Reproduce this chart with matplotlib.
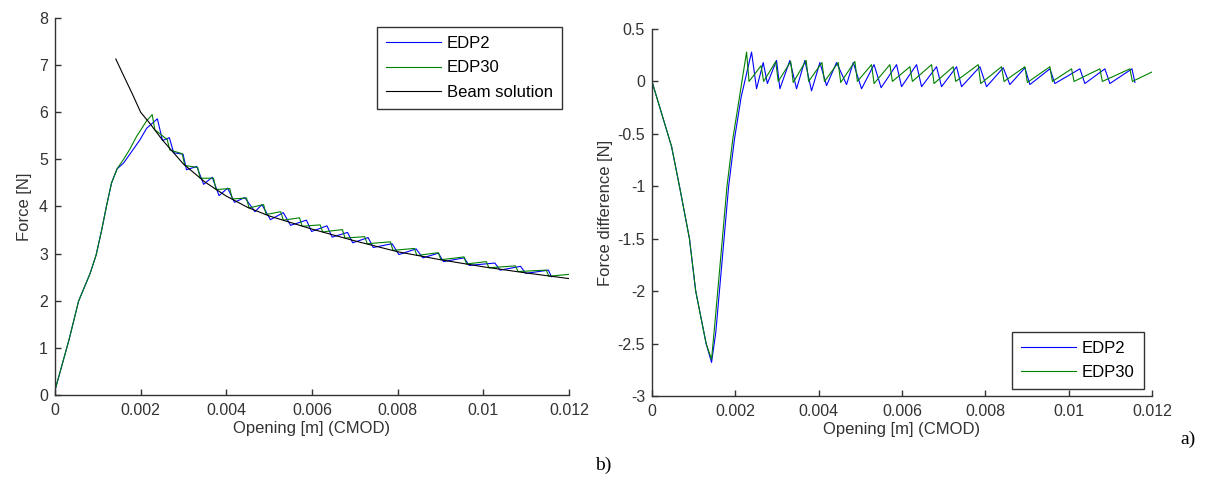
import matplotlib
matplotlib.use('Agg')
import matplotlib.pyplot as plt
from matplotlib.ticker import FuncFormatter

plt.rcParams['font.family'] = 'Liberation Sans'
plt.rcParams['axes.unicode_minus'] = False

# Left panel: force vs opening
edp2_x = [0, 0.00033, 0.00055, 0.00082, 0.00096, 0.00109, 0.0012, 0.00132, 0.00145, 0.0016, 0.00198, 0.00214, 0.00239,
          0.00251, 0.00267, 0.00277, 0.00299, 0.00307, 0.00331, 0.00347, 0.00367, 0.00383, 0.00403,
          0.00419, 0.00443, 0.00467, 0.00483, 0.00503, 0.00533, 0.0055, 0.00587, 0.00599, 0.00635,
          0.00647, 0.00683, 0.00695, 0.00731, 0.00743, 0.00787, 0.00803, 0.00843, 0.00859, 0.00895,
          0.00907, 0.00955, 0.00967, 0.01027, 0.01039, 0.01087, 0.01099, 0.01152, 0.01159]
edp2_f = [0.1, 1.18, 1.99, 2.58, 2.97, 3.5, 4.0, 4.5, 4.8, 4.92, 5.41, 5.66, 5.86,
          5.40, 5.46, 5.14, 5.11, 4.78, 4.85, 4.47, 4.62, 4.23, 4.39,
          4.09, 4.19, 3.89, 4.04, 3.72, 3.87, 3.60, 3.71, 3.47, 3.59,
          3.35, 3.45, 3.23, 3.34, 3.13, 3.21, 2.98, 3.10, 2.91, 3.01,
          2.83, 2.91, 2.75, 2.80, 2.65, 2.73, 2.58, 2.65, 2.51]

edp30_x = [0, 0.00033, 0.00055, 0.00082, 0.00096, 0.00109, 0.0012, 0.00132, 0.00145, 0.0016, 0.00175, 0.0019, 0.00214,
           0.00227, 0.00233, 0.00262, 0.00268, 0.00297, 0.00303, 0.00333, 0.00339, 0.0037, 0.00376, 0.00408,
           0.00414, 0.00447, 0.00453, 0.00487, 0.00493, 0.00527, 0.00533, 0.00571, 0.00577, 0.00619,
           0.00625, 0.00671, 0.00677, 0.00723, 0.00729, 0.00783, 0.00789, 0.00839, 0.00845, 0.00895,
           0.00901, 0.00955, 0.00961, 0.01007, 0.01013, 0.01075, 0.01081, 0.01147, 0.01153, 0.012]
edp30_f = [0.1, 1.18, 1.99, 2.58, 2.97, 3.5, 4.0, 4.5, 4.8, 5.0, 5.22, 5.48, 5.82,
           5.95, 5.63, 5.42, 5.20, 5.12, 4.87, 4.83, 4.60, 4.60, 4.36, 4.38,
           4.16, 4.18, 3.97, 4.04, 3.83, 3.89, 3.71, 3.76, 3.58, 3.61,
           3.46, 3.51, 3.33, 3.36, 3.21, 3.25, 3.07, 3.11, 2.96, 3.02,
           2.87, 2.93, 2.78, 2.83, 2.70, 2.74, 2.62, 2.65, 2.52, 2.56]

beam_x = [0.00142, 0.0016, 0.0018, 0.002, 0.0022, 0.0025, 0.003, 0.0035, 0.004, 0.0045,
          0.005, 0.006, 0.007, 0.008, 0.009, 0.01, 0.011, 0.012]
beam_f = [7.13, 6.78, 6.4, 6.0, 5.78, 5.42, 4.9, 4.52, 4.22, 3.98,
          3.8, 3.52, 3.27, 3.04, 2.87, 2.72, 2.59, 2.47]

# Right panel: force difference vs opening
diff2_x = [0, 0.00047, 0.00067, 0.0009, 0.00105, 0.0013, 0.00143, 0.00153, 0.00173, 0.00184, 0.00198, 0.00214, 0.00239,
           0.00251, 0.00267, 0.00277, 0.00299, 0.00307, 0.00331, 0.00347, 0.00367, 0.00383, 0.00403,
           0.00419, 0.00443, 0.00467, 0.00483, 0.00503, 0.00533, 0.0055, 0.00587, 0.00599, 0.00635,
           0.00647, 0.00683, 0.00695, 0.00731, 0.00743, 0.00787, 0.00803, 0.00843, 0.00859, 0.00895,
           0.00907, 0.00955, 0.00967, 0.01027, 0.01039, 0.01087, 0.01099, 0.01152, 0.01159]
diff2_y = [0, -0.62, -1.02, -1.5, -2.0, -2.5, -2.68, -2.4, -1.5, -1.0, -0.55, -0.15, 0.28,
           -0.07, 0.18, -0.02, 0.2, -0.07, 0.2, -0.07, 0.2, -0.09, 0.18,
           -0.04, 0.18, -0.03, 0.18, -0.07, 0.16, -0.06, 0.16, -0.05, 0.16,
           -0.05, 0.14, -0.05, 0.14, -0.05, 0.14, -0.05, 0.13, -0.03, 0.13,
           -0.03, 0.12, -0.02, 0.12, -0.02, 0.12, -0.02, 0.12, -0.01]

diff30_x = [0, 0.00047, 0.00067, 0.0009, 0.00105, 0.0013, 0.00143, 0.0015, 0.00169, 0.0018, 0.00194, 0.0021, 0.00227,
            0.00233, 0.00262, 0.00268, 0.00297, 0.00303, 0.00333, 0.00339, 0.0037, 0.00376, 0.00408,
            0.00414, 0.00447, 0.00453, 0.00487, 0.00493, 0.00527, 0.00533, 0.00571, 0.00577, 0.00619,
            0.00625, 0.00671, 0.00677, 0.00723, 0.00729, 0.00783, 0.00789, 0.00839, 0.00845, 0.00895,
            0.00901, 0.00955, 0.00961, 0.01007, 0.01013, 0.01075, 0.01081, 0.01147, 0.01153, 0.012]
diff30_y = [0, -0.62, -1.02, -1.5, -2.0, -2.5, -2.65, -2.35, -1.5, -1.0, -0.55, -0.15, 0.28,
            0.0, 0.15, 0.0, 0.19, 0.0, 0.19, -0.01, 0.2, 0.0, 0.18,
            0.0, 0.18, -0.01, 0.19, 0.0, 0.16, -0.02, 0.16, 0.0, 0.14,
            0.0, 0.16, -0.02, 0.14, 0.0, 0.16, -0.02, 0.14, 0.0, 0.14,
            -0.01, 0.14, 0.0, 0.12, 0.0, 0.12, 0.0, 0.12, 0.0, 0.09]

x_ticks = [0, 0.002, 0.004, 0.006, 0.008, 0.01, 0.012]

blue = '#0000ff'
green = '#008000'
ink = '#333333'
lw = 0.8

fig = plt.figure(figsize=(12.06, 4.8), dpi=100)
ax1 = fig.add_axes([0.0456, 0.1771, 0.4262, 0.7854])
ax2 = fig.add_axes([0.5406, 0.175, 0.4146, 0.7646])


def style(ax):
    for s in ['top', 'right']:
        ax.spines[s].set_visible(False)
    for s in ['left', 'bottom']:
        ax.spines[s].set_color(ink)
        ax.spines[s].set_linewidth(1.0)
    ax.tick_params(direction='in', length=4, width=1.0, colors=ink, labelsize=11.5)
    ax.tick_params(axis='x', pad=6)
    ax.tick_params(axis='y', pad=5)
    ax.set_xlim(0, 0.012)
    ax.set_xticks(x_ticks)
    ax.xaxis.set_major_formatter(FuncFormatter(lambda v, p: '%g' % v))
    ax.set_xlabel('Opening [m] (CMOD)', fontsize=12, color=ink, labelpad=2)


def legend(ax, **kw):
    leg = ax.legend(borderaxespad=0, fontsize=12, handlelength=3.3, labelspacing=0.55,
                    handletextpad=0.35, fancybox=False, framealpha=1, borderpad=0.55, **kw)
    leg.get_frame().set_edgecolor(ink)
    leg.get_frame().set_linewidth(1.0)
    return leg


ax1.plot(edp2_x, edp2_f, color=blue, lw=lw, label='EDP2')
ax1.plot(edp30_x, edp30_f, color=green, lw=lw, label='EDP30')
ax1.plot(beam_x, beam_f, color='black', lw=lw, label='Beam solution')
style(ax1)
ax1.set_ylim(0, 8)
ax1.set_yticks(range(0, 9))
ax1.set_ylabel('Force [N]', fontsize=12, color=ink, labelpad=5)
legend(ax1, loc='upper right', bbox_to_anchor=(0.986, 0.976))

ax2.plot(diff2_x, diff2_y, color=blue, lw=lw, label='EDP2')
ax2.plot(diff30_x, diff30_y, color=green, lw=lw, label='EDP30')
style(ax2)
ax2.set_ylim(-3, 0.5)
ax2.set_yticks([-3, -2.5, -2, -1.5, -1, -0.5, 0, 0.5])
ax2.yaxis.set_major_formatter(FuncFormatter(lambda v, p: '%g' % v))
ax2.set_ylabel('Force difference [N]', fontsize=12, color=ink, labelpad=3)
legend(ax2, loc='lower right', bbox_to_anchor=(0.984, 0.019))

fig.text(1180 / 1206, 1 - 439 / 480, 'a)', fontsize=14, family='Liberation Serif',
         ha='left', va='center')
fig.text(595 / 1206, 1 - 465 / 480, 'b)', fontsize=14, family='Liberation Serif',
         ha='left', va='center')

fig.savefig('out.png', dpi=100)
